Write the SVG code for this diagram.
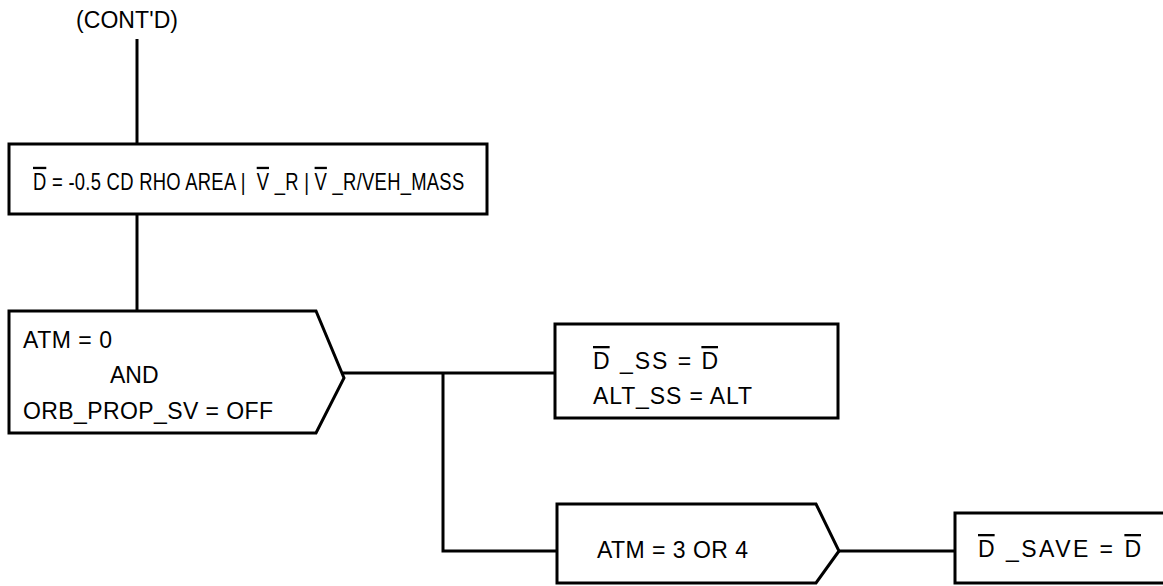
<svg xmlns="http://www.w3.org/2000/svg" width="1163" height="586" viewBox="0 0 1163 586">
<style>
.s{fill:#fff;stroke:#000;stroke-width:3}
.c{fill:none;stroke:#000;stroke-width:3}
text{font-family:"Liberation Sans",Arial,sans-serif;font-size:23px;fill:#000}
.o{text-decoration:overline}
</style>
<rect width="1163" height="586" fill="#fff"/>
<g id="connectors">
<line class="c" x1="137" y1="39" x2="137" y2="144"/>
<line class="c" x1="137" y1="214" x2="137" y2="311"/>
<polyline class="c" points="343,373 555,373"/>
<polyline class="c" points="443,373 443,551 557,551"/>
<line class="c" x1="839" y1="551" x2="955" y2="551"/>
</g>
<g id="cont">
<text x="76" y="28" textLength="102" lengthAdjust="spacing">(CONT'D)</text>
</g>
<g id="box1">
<rect class="s" x="9" y="144" width="478" height="70"/>
<text transform="translate(33,190) scale(0.8,1)" textLength="539" lengthAdjust="spacing" xml:space="preserve"><tspan class="o">D</tspan> = -0.5 CD RHO AREA |  <tspan class="o">V</tspan> _R | <tspan class="o">V</tspan> _R/VEH_MASS</text>
</g>
<g id="dec1">
<polygon class="s" points="9,311 316,311 344,378 316,433 9,433"/>
<text x="23" y="348" textLength="89" lengthAdjust="spacing">ATM = 0</text>
<text x="110" y="383">AND</text>
<text x="23" y="419" textLength="250" lengthAdjust="spacing">ORB_PROP_SV = OFF</text>
</g>
<g id="box2">
<rect class="s" x="555" y="324" width="283" height="94"/>
<text x="593" y="369" xml:space="preserve" textLength="125" lengthAdjust="spacing"><tspan class="o">D</tspan> _SS = <tspan class="o">D</tspan></text>
<text x="593" y="404" textLength="159" lengthAdjust="spacing">ALT_SS = ALT</text>
</g>
<g id="dec2">
<polygon class="s" points="557,504 816,504 839,551 816,583 557,583"/>
<text x="597" y="558" textLength="151" lengthAdjust="spacing">ATM = 3 OR 4</text>
</g>
<g id="box3">
<rect class="s" x="955" y="513" width="220" height="70"/>
<text x="978" y="557" xml:space="preserve" textLength="163" lengthAdjust="spacing"><tspan class="o">D</tspan> _SAVE = <tspan class="o">D</tspan></text>
</g>
</svg>
